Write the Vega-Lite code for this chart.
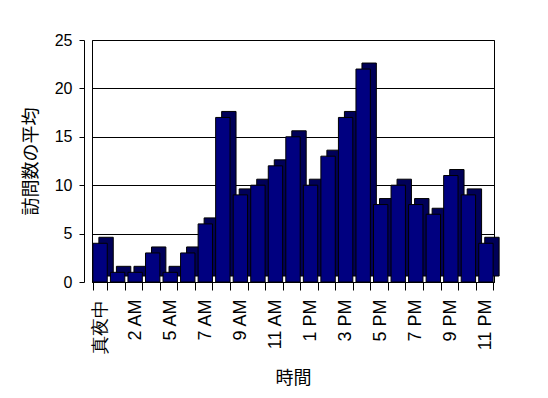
{
  "$schema": "https://vega.github.io/schema/vega-lite/v6.json",
  "width": 402,
  "height": 242,
  "autosize": "none",
  "padding": {"left": 92, "top": 40, "right": 54, "bottom": 116},
  "background": "white",
  "config": {
    "view": {"stroke": "black", "strokeWidth": 1},
    "font": "Liberation Sans",
    "axis": {"labelColor": "black", "titleColor": "black", "domainColor": "black", "tickColor": "black", "gridColor": "black", "gridOpacity": 1}
  },
  "data": {
    "values": [
      {"hour": "真夜中", "v": 4},
      {"hour": "1 AM", "v": 1},
      {"hour": "2 AM", "v": 1},
      {"hour": "4 AM", "v": 3},
      {"hour": "5 AM", "v": 1},
      {"hour": "6 AM", "v": 3},
      {"hour": "7 AM", "v": 6},
      {"hour": "8 AM", "v": 17},
      {"hour": "9 AM", "v": 9},
      {"hour": "10 AM", "v": 10},
      {"hour": "11 AM", "v": 12},
      {"hour": "12 PM", "v": 15},
      {"hour": "1 PM", "v": 10},
      {"hour": "2 PM", "v": 13},
      {"hour": "3 PM", "v": 17},
      {"hour": "4 PM", "v": 22},
      {"hour": "5 PM", "v": 8},
      {"hour": "6 PM", "v": 10},
      {"hour": "7 PM", "v": 8},
      {"hour": "8 PM", "v": 7},
      {"hour": "9 PM", "v": 11},
      {"hour": "10 PM", "v": 9},
      {"hour": "11 PM", "v": 4}
    ]
  },
  "encoding": {
    "x": {
      "field": "hour", "type": "nominal", "sort": null,
      "scale": {"paddingInner": 0.18, "paddingOuter": 0.05},
      "axis": {
        "title": "時間", "titleFont": "Noto Sans CJK JP", "titleFontSize": 18, "titleFontWeight": "normal", "titlePadding": 16,
        "labelAngle": 270, "labelAlign": "right", "labelBaseline": "middle",
        "labelFont": "Liberation Sans", "labelFontSize": 18, "labelLimit": 200, "labelPadding": 9, "labelOverlap": false,
        "labelExpr": "indexof(['真夜中','2 AM','5 AM','7 AM','9 AM','11 AM','1 PM','3 PM','5 PM','7 PM','9 PM','11 PM'], datum.value) >= 0 ? datum.label : ''",
        "tickBand": "extent", "tickSize": 8, "domain": true
      }
    },
    "y": {
      "field": "v", "type": "quantitative",
      "scale": {"domain": [0, 25], "nice": false},
      "axis": {
        "title": "訪問数の平均", "titleFont": "Noto Sans CJK JP", "titleFontSize": 18, "titleFontWeight": "normal", "titlePadding": 14,
        "values": [0, 5, 10, 15, 20, 25], "labelFont": "Liberation Sans", "labelFontSize": 16,
        "tickSize": 5, "labelPadding": 7, "offset": 8, "grid": true
      }
    }
  },
  "layer": [
    {"mark": {"type": "bar", "fill": "#000058", "stroke": "black", "strokeWidth": 1, "xOffset": 6, "yOffset": -6}},
    {"mark": {"type": "bar", "fill": "#000080", "stroke": "black", "strokeWidth": 1}}
  ]
}
